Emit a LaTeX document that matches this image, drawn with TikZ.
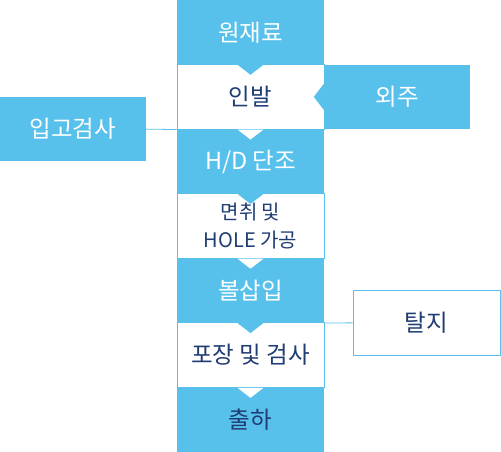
\documentclass[tikz,border=0pt]{standalone}
\usepackage{fontspec}
\setmainfont{Noto Sans CJK KR}
\usetikzlibrary{positioning}
\definecolor{stepblue}{RGB}{87,193,235}
\definecolor{stepnavy}{RGB}{31,61,115}

\begin{document}
\begin{tikzpicture}[
			x=1pt, y=-1pt,
			node distance=64.57pt,
			on grid,
			bluestep/.style={
				fill=stepblue,
				minimum width=147pt,
				minimum height=64.57pt,
				inner sep=0pt,
				text=white,
				font=\fontsize{23.5}{26}\selectfont
			},
			whitestep/.style={
				bluestep,
				fill=white,
				draw=stepblue,
				line width=0.8pt,
				text=stepnavy
			},
			link/.style={
				draw=stepblue,
				line width=0.8pt
			}
			]
			\useasboundingbox (0,0) rectangle (501,452);
			
			% Steps
			\node[bluestep] (raw) at (250.5,32.28) {원재료};
			\node[whitestep] (drawing) [below=of raw] {인발};
			\node[bluestep] (forging) [below=of drawing] {H/D 단조};
			\node[whitestep, align=center, font=\fontsize{20}{28}\selectfont] (chamfer) [below=of forging] {면취 및\\HOLE 가공};
			\node[bluestep] (ball) [below=of chamfer] {볼삽입};
			\node[whitestep] (packing) [below=of ball] {포장 및 검사};
			\node[bluestep, text=stepnavy] (shipping) [below=of packing] {출하};
			
			% Notches
			\foreach \s/\c in {raw/stepblue, drawing/white, forging/stepblue, chamfer/white, ball/stepblue, packing/white}
				\fill[\c] ([xshift=-13pt]\s.south) -- ([xshift=13pt]\s.south) -- ([yshift=-10pt]\s.south) -- cycle;
			
			% Side boxes
			\node[bluestep, minimum width=146pt] (outsource) [right=146.5pt of drawing] {외주};
			\fill[stepblue] ([yshift=13pt]outsource.west) -- ([yshift=-13pt]outsource.west) -- ([xshift=-10pt]outsource.west) -- cycle;
			\node[bluestep, minimum width=146pt] (inspection) at (73,129.14) {입고검사};
			\node[whitestep, minimum width=147pt] (degreasing) at (426.5,322.85) {탈지};
			
			% Links
			\path[link]
			(inspection.east) -- (drawing.south west)
			(degreasing.west) -- (ball.south east);
		\end{tikzpicture}
\end{document}
